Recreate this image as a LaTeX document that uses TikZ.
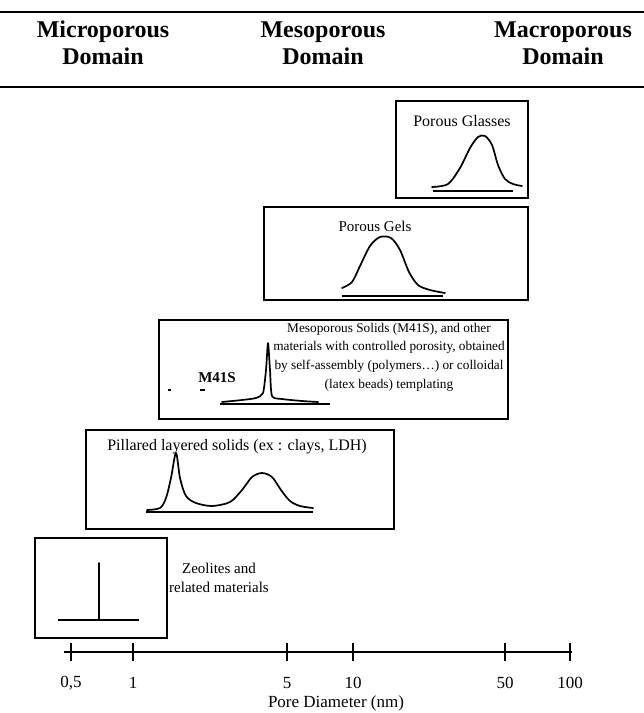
\documentclass[tikz,border=0pt]{standalone}
\usepackage{fontspec}
\setmainfont{Liberation Serif}
\begin{document}
\begin{tikzpicture}[x=1pt,y=-1pt,
    box/.style={draw,line width=1.2pt},
    curve/.style={line width=1.7pt,line join=round,line cap=round},
    base/.style={line width=1.2pt},
    txt/.style={font=\fontsize{15}{19}\selectfont,align=center,inner sep=0pt},
    axtxt/.style={font=\fontsize{17}{19}\selectfont,inner sep=0pt},
    head/.style={font=\fontsize{24}{27}\selectfont\bfseries,align=center,inner sep=0pt}]
  \useasboundingbox (0,0) rectangle (644,713);
  % header
  \draw[line width=1.5pt] (0,12) -- (644,12);
  \draw[line width=1.5pt] (0,87) -- (644,87);
  \node[head] (micro) at (103,43) {Microporous\\Domain};
  \node[head] (meso) at (323,43) {Mesoporous\\Domain};
  \node[head] (macro) at (563,43) {Macroporous\\Domain};
  % porous glasses
  \draw[box] (396,101) rectangle (528,198);
  \node[txt,font=\fontsize{16}{19}\selectfont] (glass) at (462,121) {Porous Glasses};
  \draw[curve] plot[smooth] coordinates {(432,187) (448,184) (460,168) (470,148) (478,137) (485,136) (492,145) (498,165) (505,179) (513,184) (522,186)};
  \draw[base] (433,191) -- (513,191);
  % porous gels
  \draw[box] (264,207) rectangle (528,300);
  \node[txt] (gels) at (375,226) {Porous Gels};
  \draw[curve] plot[smooth] coordinates {(342,288) (352,282) (360,266) (370,246) (380,237) (391,238) (400,250) (409,272) (418,285) (430,290) (445,293)};
  \draw[base] (342,296) -- (443,296);
  % M41S
  \draw[box] (159,320) rectangle (508,419);
  \node[txt,font=\fontsize{13.3}{18.6}\selectfont] (meso text) at (389,357) {Mesoporous Solids (M41S), and other\\materials with controlled porosity, obtained\\by self-assembly (polymers…) or colloidal\\(latex beads) templating};
  \node[txt,font=\fontsize{15}{19}\selectfont\bfseries] (m41s) at (217,378) {M41S};
  \draw[line width=1.4pt] (168,390) -- (171,390);
  \draw[line width=1.4pt] (200,390) -- (205,390);
  \draw[curve] plot[smooth,tension=0.4] coordinates {(222,402) (242,400) (256,398) (263,393) (266,370) (268,343) (270,370) (272,396) (282,399) (302,401) (318,402)};
  \draw[base] (220,404) -- (330,404);
  % pillared
  \draw[box] (86,430) rectangle (394,529);
  \node[txt,font=\fontsize{16}{19}\selectfont] (pillar) at (237,447) {Pillared layered solids (ex : clays, LDH)};
  \draw[curve] plot[smooth,tension=0.5] coordinates {(147,510) (160,508) (166,498) (171,478) (176,453) (180,478) (186,496) (196,503) (212,506) (230,502) (242,490) (252,477) (262,473) (272,477) (281,490) (290,501) (300,506) (313,508)};
  \draw[base] (146,512) -- (313,512);
  % zeolites
  \draw[box] (35,538) rectangle (167,638);
  \node[txt] (zeo) at (219,578) {Zeolites and\\related materials};
  \draw[curve] (99,563) -- (99,620);
  \draw[base] (58,620) -- (139,620);
  % axis
  \draw[line width=1.3pt] (64,652) -- (572,652);
  \foreach \x/\v [count=\i] in {71/{0,5},133/1,287/5,353/10,505/50,570/100} {
    \draw[line width=1.2pt] (\x,643) -- (\x,661);
    \node[axtxt] (tick\i) at (\x,683) {\v};
  }
  \node[axtxt] (axis) at (336,703) {Pore Diameter (nm)};
\end{tikzpicture}
\end{document}
